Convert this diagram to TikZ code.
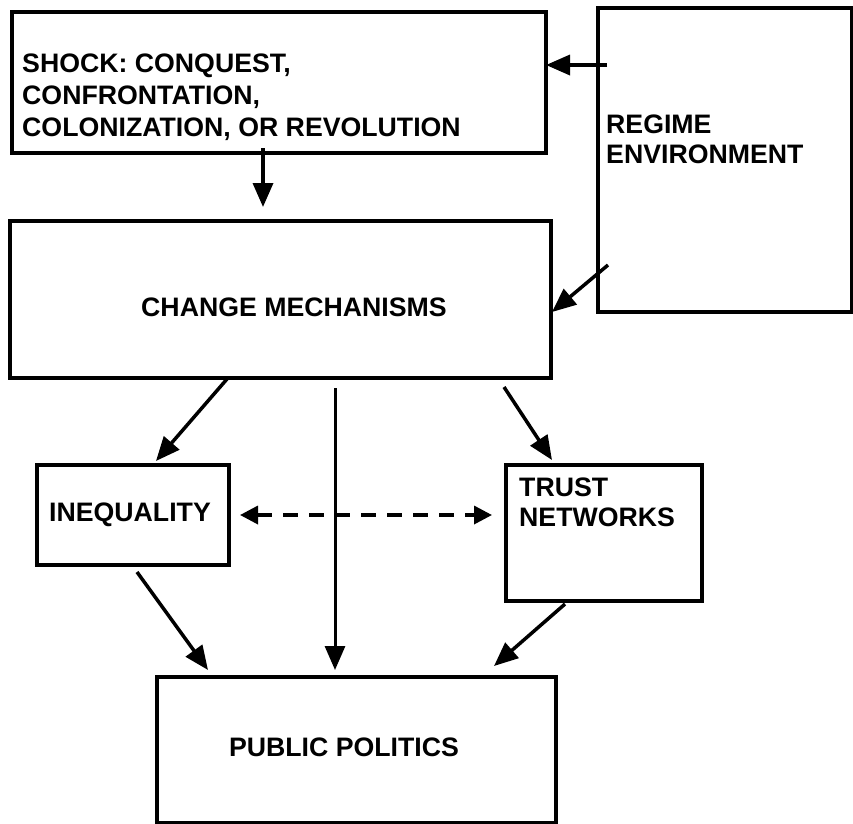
\documentclass[tikz,border=0pt]{standalone}
\usepackage{fontspec}
\setmainfont{Liberation Sans}
\usetikzlibrary{arrows.meta}
\begin{document}
\begin{tikzpicture}[x=1pt,y=-1pt,
  box/.style={draw,line width=3.5pt,inner sep=0pt,anchor=north west},
  lbl/.style={inner sep=0pt,align=left,font=\fontsize{26.7}{32}\selectfont\bfseries},
  arr/.style={line width=3.5pt,-{Triangle[length=24pt,width=20pt]}},
  darr/.style={line width=3.5pt,dash pattern=on 15pt off 11pt,{Triangle[length=18pt,width=18pt]}-{Triangle[length=18pt,width=18pt]}}]
\useasboundingbox (0,0) rectangle (853,823);
\fill[white] (0,0) rectangle (853,823);
% boxes
\node[box,minimum width=534pt,minimum height=141pt] (shock) at (10,10) {};
\node[box,minimum width=254pt,minimum height=304pt] (regime) at (596,6) {};
\node[box,minimum width=541pt,minimum height=157pt] (change) at (8,219) {};
\node[box,minimum width=192pt,minimum height=100pt] (ineq) at (35,463) {};
\node[box,minimum width=196pt,minimum height=136pt] (trust) at (504,463) {};
\node[box,minimum width=399pt,minimum height=146pt] (public) at (155,675) {};
% texts
\node[lbl,anchor=west] (shocktxt) at (22,97) {SHOCK: CONQUEST,\\CONFRONTATION,\\COLONIZATION, OR REVOLUTION};
\node[lbl,anchor=west,font=\fontsize{26.7}{30}\selectfont\bfseries] (regimetxt) at (606,139) {REGIME\\ENVIRONMENT};
\node[lbl] (changetxt) at (294,307) {CHANGE MECHANISMS};
\node[lbl] (ineqtxt) at (130,515) {INEQUALITY};
\node[lbl,anchor=west,font=\fontsize{26.7}{30}\selectfont\bfseries] (trusttxt) at (519,502) {TRUST\\NETWORKS};
\node[lbl] (publictxt) at (344,747) {PUBLIC POLITICS};
% arrow end points
\coordinate (rs1) at (607,65);
\coordinate (rs2) at (546,65);
\coordinate (sc1) at (263,148);
\coordinate (sc2) at (263,207);
\coordinate (rc1) at (608,265);
\coordinate (rc2) at (552,312);
\coordinate (ci1) at (227,379);
\coordinate (ci2) at (156,461);
\coordinate (cp1) at (335,388);
\coordinate (cp2) at (335,670);
\coordinate (ct1) at (504,387);
\coordinate (ct2) at (552,460);
\coordinate (it1) at (240,515);
\coordinate (it2) at (492,515);
\coordinate (ip1) at (137,572);
\coordinate (ip2) at (208,670);
\coordinate (tp1) at (565,604);
\coordinate (tp2) at (494,666);
% connectors
\draw[arr] (rs1) -- (rs2);
\draw[arr] (sc1) -- (sc2);
\draw[arr] (rc1) -- (rc2);
\draw[arr] (ci1) -- (ci2);
\draw[arr,line width=3pt] (cp1) -- (cp2);
\draw[arr] (ct1) -- (ct2);
\draw[darr] (it1) -- (it2);
\draw[arr] (ip1) -- (ip2);
\draw[arr] (tp1) -- (tp2);
\end{tikzpicture}
\end{document}
